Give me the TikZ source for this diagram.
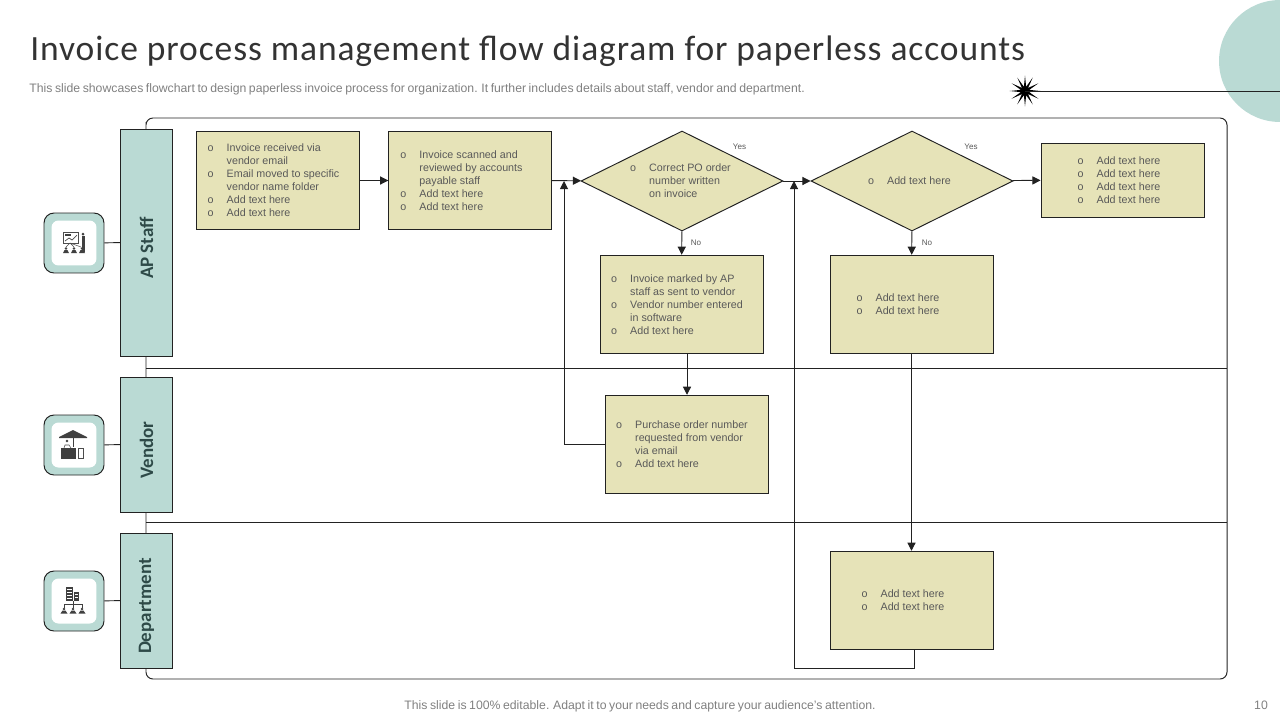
\documentclass[tikz,border=0pt]{standalone}
\usepackage{xcolor}
\usepackage{fontspec}
\setmainfont{Liberation Sans}
\newfontfamily\headfont{Carlito}
\newfontfamily\titlefont[LetterSpace=2.55]{Carlito}
\usepackage{tikz}
\usetikzlibrary{shapes.geometric,arrows.meta}

\definecolor{laneteal}{HTML}{BADAD4}
\definecolor{boxsand}{HTML}{E6E3B8}
\definecolor{inkline}{HTML}{222222}
\definecolor{boxtext}{HTML}{595959}
\definecolor{lanetext}{HTML}{2E4A48}

\newenvironment{bullets}[1][0cm]{\begin{tabular}{@{}p{0.38cm}@{}l@{\hspace{#1}}}\noalign{\vskip 0.04cm}}{\end{tabular}}
\newcommand{\lanelabel}[1]{\rotatebox{90}{#1\hspace{0.22cm}}}
\newcommand{\tightface}{\fontsize{6.97}{8}\selectfont\spaceskip=0.21em\relax}

\tikzset{
    x=0.02cm, y=-0.02cm,
    conn/.style={draw=inkline, line width=0.55pt},
    flow/.style={conn, -{Triangle[length=4.6pt,width=4.6pt]}},
    boxbase/.style={draw=inkline, line width=0.55pt, fill=boxsand, text=boxtext, inner sep=0pt,
        font=\fontsize{6.1}{7.4}\selectfont},
    procbox/.style={boxbase, rectangle, minimum width=3.25cm, minimum height=1.97cm},
    lowbox/.style={procbox, minimum width=3.26cm},
    endbox/.style={boxbase, rectangle, minimum width=3.26cm, minimum height=1.48cm},
    decide/.style={boxbase, diamond, aspect=2, minimum width=4.04cm, minimum height=2cm},
    lane/.style={draw=inkline, line width=0.55pt, fill=laneteal, text=lanetext, inner sep=0pt,
        minimum width=1.03cm, font=\headfont\bfseries\fontsize{10.8}{12}\selectfont},
    iconout/.style={draw=inkline, line width=0.55pt, fill=laneteal, rounded corners=0.2cm,
        minimum width=1.2cm, minimum height=1.2cm, inner sep=0pt},
    iconin/.style={fill=white, rounded corners=0.14cm, minimum width=0.9cm, minimum height=0.9cm, inner sep=0pt},
    tag/.style={text=boxtext, font=\fontsize{4.6}{5}\selectfont, inner sep=0pt},
    smallprint/.style={inner sep=0pt, text=black!50, font=\tightface},
    glyph/.style={fill=black!75, draw=none},
}

\begin{document}
\begin{tikzpicture}
    \clip (0,0) rectangle (1280,720);

    % corner decoration
    \fill[laneteal] (1280,61) circle (1.22cm);
    \node[star, star points=12, star point ratio=3.6, fill=black, inner sep=0pt, minimum size=0.62cm] (spark) at (1025,91) {};
    \coordinate (sparkend) at (1280,91);
    \draw[conn] (spark.center) -- (sparkend);

    % headings
    \node[anchor=base west, inner sep=0pt, text=black!80, font=\titlefont\fontsize{20.2}{22}\selectfont] (title) at (30,60)
        {Invoice process management flow diagram for paperless accounts};
    \node[anchor=base west, smallprint] (subtitle) at (29,92)
        {This slide showcases flowchart to design paperless invoice process for organization. It further includes details about staff, vendor and department.};
    \node[anchor=base, smallprint] (footer) at (640,709)
        {This slide is 100\% editable. Adapt it to your needs and capture your audience's attention.};
    \node[anchor=base, smallprint] (pageno) at (1261,709) {10};

    % frame and lane rules
    \draw[conn, rounded corners=0.14cm] (146,129) |- (1227,118) |- (146,679) -- cycle;
    \draw[conn] (146,368) -- (1227,368);
    \draw[conn] (146,522) -- (1227,522);

    % lanes
    \node[lane, minimum height=4.54cm] (staff) at (146.5,242.5) {\lanelabel{AP Staff}};
    \node[lane, minimum height=2.7cm] (vendor) at (146.5,444.5) {\lanelabel{Vendor}};
    \node[lane, minimum height=2.7cm] (dept) at (146.5,600.5) {\lanelabel{Department}};

    % lane icons
    \node[iconout] (staffout) at (74,243) {};
    \node[iconin] at (74,243) {};
    \node[iconout] (vendorout) at (74,445) {};
    \node[iconin] at (74,445) {};
    \node[iconout] (deptout) at (74,601) {};
    \node[iconin] at (74,601) {};
    \draw[conn] (staffout) -- (staff);
    \draw[conn] (vendorout) -- (vendor);
    \draw[conn] (deptout) -- (dept);

    % presenter
    \draw[black!70, line width=0.3pt, fill=white] (63,232) rectangle (78,243);
    \draw[black!70, line width=0.4pt] (65,241) -- (69,238) -- (72,240) -- (77,235);
    \fill[glyph] (65,234) rectangle (71,235.5);
    \fill[glyph] (83,234) circle (1.5);
    \fill[glyph] (81.5,236) rectangle (84.5,252);
    \draw[black!70, line width=0.3pt] (70,243) -- (66,247) (70,243) -- (74,247) (70,243) -- (81,247);
    \foreach \cx in {66,74,82} {
        \fill[glyph] (\cx,248.5) circle (1.4);
        \fill[glyph] (\cx-3,253) -- (\cx-1.5,250) -- (\cx+1.5,250) -- (\cx+3,253) -- cycle;
    }

    % stall
    \fill[glyph] (59,437) -- (65,434) -- (73,430) -- (81,434) -- (87,437) -- (87,438) -- (59,438) -- cycle;
    \fill[glyph] (73,438) rectangle (73.8,447);
    \fill[glyph] (67,441) circle (1.4);
    \fill[glyph] (61,448) rectangle (76,459);
    \draw[black!70, line width=0.3pt] (64,448) -- (65,445) -- (69,445) -- (71,448);
    \draw[black!70, line width=0.4pt, fill=white] (78,448) rectangle (83,458);

    % building and tree
    \fill[glyph] (66,587) rectangle (73,601);
    \fill[glyph] (74,592) rectangle (79,601);
    \foreach \ry in {589,592,595,598} {
        \draw[white, line width=0.5pt] (67,\ry) -- (72,\ry);
    }
    \foreach \ry in {594,597} {
        \draw[white, line width=0.5pt] (75,\ry) -- (78,\ry);
    }
    \draw[black!75, line width=0.4pt] (73,601) -- (73,608) (64,608) |- (82,604.5) -- (82,608);
    \foreach \cx in {64,73,82} {
        \fill[glyph] (\cx,609) circle (1.3);
        \fill[glyph] (\cx-3.5,613.5) -- (\cx-1.5,610.5) -- (\cx+1.5,610.5) -- (\cx+3.5,613.5) -- cycle;
    }

    % flow nodes
    \node[procbox] (received) at (278,180.5) {\begin{bullets}[0.18cm]
        o & Invoice received via\\ & vendor email\\
        o & Email  moved to specific\\ & vendor name  folder\\
        o & Add text here\\ o & Add text here
    \end{bullets}};
    \node[procbox] (scanned) at (470,180.5) {\begin{bullets}[0.34cm]
        o & Invoice scanned and\\ & reviewed by accounts\\ & payable staff\\
        o & Add text here\\ o & Add text here
    \end{bullets}};
    \node[decide] (pocheck) at (682,181) {\begin{bullets}[0.06cm]
        o & Correct PO  order\\ & number  written\\ & on invoice
    \end{bullets}};
    \node[decide] (textcheck) at (912,181) {\begin{bullets}[0.1cm]
        o & Add text here
    \end{bullets}};
    \node[endbox] (finish) at (1122.5,180) {\begin{bullets}[0.14cm]
        o & Add text here\\ o & Add text here\\ o & Add text here\\ o & Add text here
    \end{bullets}};
    \node[lowbox] (marked) at (681.5,304.5) {\begin{bullets}[0.18cm]
        o & Invoice marked by AP\\ & staff as sent to vendor\\
        o & Vendor number entered\\ & in software\\
        o & Add text here
    \end{bullets}};
    \node[lowbox] (noside) at (911.5,304.5) {\begin{bullets}[0.54cm]
        o & Add text here\\ o & Add text here
    \end{bullets}};
    \node[procbox] (request) at (687,444.5) {\begin{bullets}[0.2cm]
        o & Purchase order number\\ & requested from vendor\\ & via email\\
        o & Add text here
    \end{bullets}};
    \node[lowbox] (deptbox) at (911.5,600.5) {\begin{bullets}[0.34cm]
        o & Add text here\\ o & Add text here
    \end{bullets}};

    % connectors
    \draw[flow] (received) -- (scanned);
    \draw[flow] (scanned) -- (pocheck);
    \draw[flow] (pocheck) -- (textcheck);
    \draw[flow] (textcheck) -- (finish);
    \draw[flow] (pocheck) -- (marked);
    \draw[flow] (textcheck) -- (noside);
    \draw[flow] (marked.south -| request.north) -- (request.north);
    \draw[flow] (noside) -- (deptbox);
    \coordinate (pojoin) at (564,181);
    \coordinate (textjoin) at (794,181);
    \coordinate (deptdrop) at (914,668);
    \draw[flow] (request.west) -| (pojoin);
    \draw[flow] (deptbox.south -| deptdrop) -- (deptdrop) -| (textjoin);

    % branch tags
    \node[tag] (yesone) at (739.5,147) {Yes};
    \node[tag] (yestwo) at (971,147) {Yes};
    \node[tag] (noone) at (696,243) {No};
    \node[tag] (notwo) at (927,243) {No};
\end{tikzpicture}
\end{document}
